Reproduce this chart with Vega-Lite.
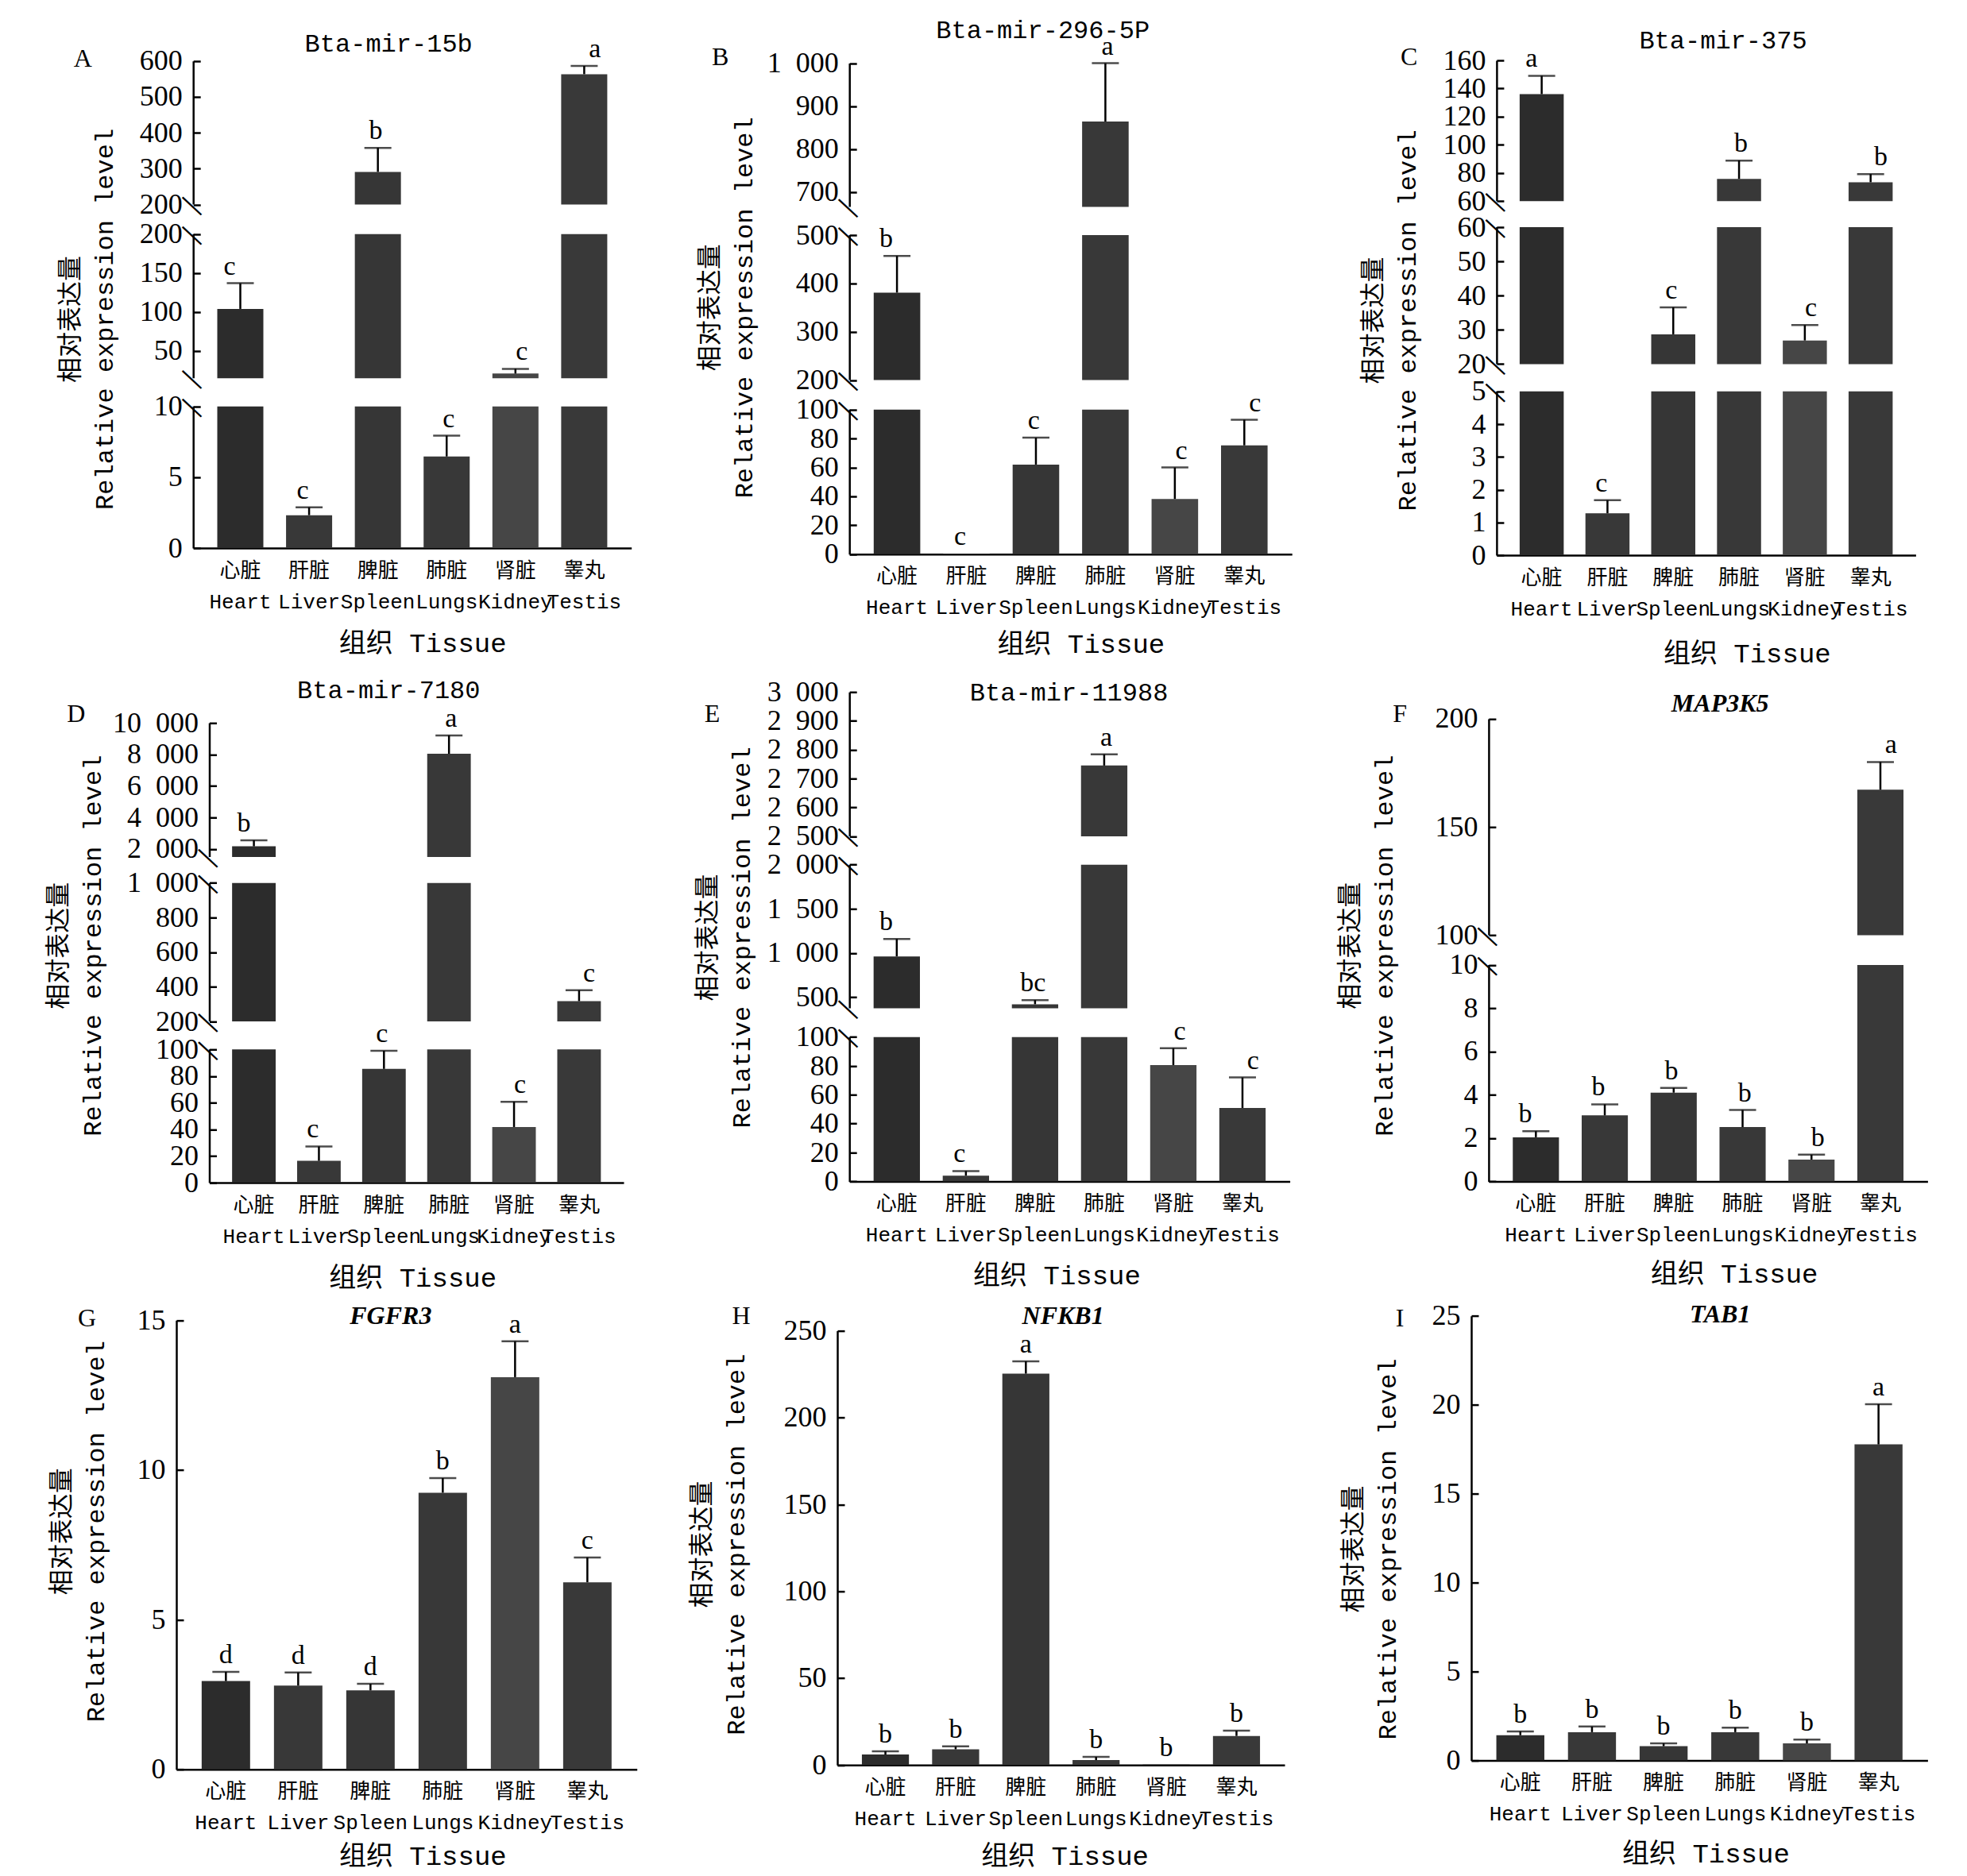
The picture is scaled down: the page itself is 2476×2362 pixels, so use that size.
{
  "$schema": "https://vega.github.io/schema/vega-lite/v6.json",
  "padding": {"left": 57, "top": 21, "right": 6, "bottom": 12},
  "background": "white",
  "columns": 3,
  "bounds": "flush",
  "spacing": {"row": 169.3, "column": 200},
  "datasets": {
    "A": [
      {"t": "心脏 Heart", "v": 104, "hi": 137, "g": "c"},
      {"t": "肝脏 Liver", "v": 2.32, "hi": 2.88, "g": "c"},
      {"t": "脾脏 Spleen", "v": 291, "hi": 358, "g": "b"},
      {"t": "肺脏 Lungs", "v": 6.47, "hi": 7.94, "g": "c"},
      {"t": "肾脏 Kidney", "v": 21, "hi": 27, "g": "c"},
      {"t": "睾丸 Testis", "v": 563, "hi": 586, "g": "a"}
    ],
    "B": [
      {"t": "心脏 Heart", "v": 381, "hi": 457, "g": "b"},
      {"t": "肝脏 Liver", "v": 0.4, "hi": 0.4, "g": "c"},
      {"t": "脾脏 Spleen", "v": 62, "hi": 80.6, "g": "c"},
      {"t": "肺脏 Lungs", "v": 864, "hi": 1000, "g": "a"},
      {"t": "肾脏 Kidney", "v": 38.2, "hi": 60, "g": "c"},
      {"t": "睾丸 Testis", "v": 75.3, "hi": 93, "g": "c"}
    ],
    "C": [
      {"t": "心脏 Heart", "v": 136, "hi": 149, "g": "a"},
      {"t": "肝脏 Liver", "v": 1.28, "hi": 1.68, "g": "c"},
      {"t": "脾脏 Spleen", "v": 28.7, "hi": 36.6, "g": "c"},
      {"t": "肺脏 Lungs", "v": 75.8, "hi": 88.8, "g": "b"},
      {"t": "肾脏 Kidney", "v": 26.9, "hi": 31.4, "g": "c"},
      {"t": "睾丸 Testis", "v": 73.4, "hi": 79.2, "g": "b"}
    ],
    "D": [
      {"t": "心脏 Heart", "v": 2170, "hi": 2556, "g": "b"},
      {"t": "肝脏 Liver", "v": 16.4, "hi": 27.2, "g": "c"},
      {"t": "脾脏 Spleen", "v": 85.4, "hi": 99, "g": "c"},
      {"t": "肺脏 Lungs", "v": 8040, "hi": 9205, "g": "a"},
      {"t": "肾脏 Kidney", "v": 41.8, "hi": 60.7, "g": "c"},
      {"t": "睾丸 Testis", "v": 317, "hi": 380, "g": "c"}
    ],
    "E": [
      {"t": "心脏 Heart", "v": 962, "hi": 1159, "g": "b"},
      {"t": "肝脏 Liver", "v": 4, "hi": 7.2, "g": "c"},
      {"t": "脾脏 Spleen", "v": 420, "hi": 467, "g": "bc"},
      {"t": "肺脏 Lungs", "v": 2745, "hi": 2784, "g": "a"},
      {"t": "肾脏 Kidney", "v": 80.6, "hi": 92.3, "g": "c"},
      {"t": "睾丸 Testis", "v": 50.9, "hi": 72, "g": "c"}
    ],
    "F": [
      {"t": "心脏 Heart", "v": 2.04, "hi": 2.32, "g": "b"},
      {"t": "肝脏 Liver", "v": 3.05, "hi": 3.56, "g": "b"},
      {"t": "脾脏 Spleen", "v": 4.1, "hi": 4.32, "g": "b"},
      {"t": "肺脏 Lungs", "v": 2.51, "hi": 3.3, "g": "b"},
      {"t": "肾脏 Kidney", "v": 1.01, "hi": 1.24, "g": "b"},
      {"t": "睾丸 Testis", "v": 167.2, "hi": 180, "g": "a"}
    ],
    "G": [
      {"t": "心脏 Heart", "v": 2.95, "hi": 3.26, "g": "d"},
      {"t": "肝脏 Liver", "v": 2.8, "hi": 3.24, "g": "d"},
      {"t": "脾脏 Spleen", "v": 2.64, "hi": 2.86, "g": "d"},
      {"t": "肺脏 Lungs", "v": 9.24, "hi": 9.73, "g": "b"},
      {"t": "肾脏 Kidney", "v": 13.1, "hi": 14.3, "g": "a"},
      {"t": "睾丸 Testis", "v": 6.25, "hi": 7.08, "g": "c"}
    ],
    "H": [
      {"t": "心脏 Heart", "v": 6, "hi": 7.9, "g": "b"},
      {"t": "肝脏 Liver", "v": 9, "hi": 10.7, "g": "b"},
      {"t": "脾脏 Spleen", "v": 225.3, "hi": 232.4, "g": "a"},
      {"t": "肺脏 Lungs", "v": 2.8, "hi": 4.7, "g": "b"},
      {"t": "肾脏 Kidney", "v": 0.3, "hi": 0.3, "g": "b"},
      {"t": "睾丸 Testis", "v": 16.7, "hi": 19.7, "g": "b"}
    ],
    "I": [
      {"t": "心脏 Heart", "v": 1.42, "hi": 1.63, "g": "b"},
      {"t": "肝脏 Liver", "v": 1.59, "hi": 1.91, "g": "b"},
      {"t": "脾脏 Spleen", "v": 0.8, "hi": 0.96, "g": "b"},
      {"t": "肺脏 Lungs", "v": 1.59, "hi": 1.84, "g": "b"},
      {"t": "肾脏 Kidney", "v": 0.96, "hi": 1.17, "g": "b"},
      {"t": "睾丸 Testis", "v": 17.77, "hi": 20.03, "g": "a"}
    ]
  },
  "concat": [
    {
      "width": 631.1, "height": 614, "data": {"name": "A"},
      "resolve": {"scale": {"x": "independent"}, "axis": {"x": "independent", "y": "independent"}},
      "layer": [
        {"mark": {"type": "bar"}, "encoding": {
          "x": {"field": "t", "type": "nominal", "scale": {"domain": ["心脏 Heart","肝脏 Liver","脾脏 Spleen","肺脏 Lungs","肾脏 Kidney","睾丸 Testis"], "range": [21.2, 572.7], "paddingInner": 0.33, "paddingOuter": 0.35}, "axis": {"orient": "bottom", "title": "组织 Tissue", "ticks": false, "labelAngle": 0, "labelFont": "Liberation Mono, Noto Sans CJK SC", "labelFontSize": 26, "labelLineHeight": 39, "labelPadding": 15, "labelBaseline": "top", "labelExpr": "split(datum.label, ' ')", "titleFont": "Liberation Mono, Noto Sans CJK SC", "titleFontSize": 34, "titleAlign": "center", "titleBaseline": "middle", "titleX": 309.7, "titleY": 120.8}},
          "y": {"field": "v", "type": "quantitative", "scale": {"domain": [0, 10, 15, 200, 200.0001, 600], "range": [614, 435.8, 400.2, 218.8, 181.6, 0.7], "zero": false, "nice": false}, "axis": {"orient": "left", "offset": -21.2, "zindex": 1, "domain": false, "values": [0, 5, 10, 50, 100, 150, 200, 200.0001, 300, 400, 500, 600], "tickSize": -9, "labelPadding": 23, "labelFont": "Liberation Serif", "labelFontSize": 36, "labelExpr": "replace(format(datum.value, ',.0f'), ',', '\u2002')", "title": ["相对表达量", "Relative expression level"], "titleFont": "Liberation Mono, Noto Sans CJK SC", "titleFontSize": 32, "titleLineHeight": 43, "titleAngle": 270, "titleAlign": "center", "titleBaseline": "middle", "titleX": -154.4, "titleY": 325.4}},
          "color": {"field": "t", "type": "nominal", "scale": {"domain": ["心脏 Heart","肝脏 Liver","脾脏 Spleen","肺脏 Lungs","肾脏 Kidney","睾丸 Testis"], "range": ["#2c2c2c","#383838","#363636","#383838","#464646","#393939"]}, "legend": null}}},
        {"data": {"values": [{}]}, "mark": {"type": "rect", "color": "white"}, "encoding": {
          "y": {"datum": 10, "type": "quantitative", "scale": {"domain": [0, 10, 15, 200, 200.0001, 600], "range": [614, 435.8, 400.2, 218.8, 181.6, 0.7], "zero": false, "nice": false}, "axis": null}, "y2": {"datum": 15}}},
        {"data": {"values": [{}]}, "mark": {"type": "rect", "color": "white"}, "encoding": {
          "y": {"datum": 200, "type": "quantitative", "scale": {"domain": [0, 10, 15, 200, 200.0001, 600], "range": [614, 435.8, 400.2, 218.8, 181.6, 0.7], "zero": false, "nice": false}, "axis": null}, "y2": {"datum": 200.0001}}},
        {"data": {"values": [{"b": 10}, {"b": 15}, {"b": 200}, {"b": 200.0001}]}, "mark": {"type": "text", "text": "\u2014", "angle": 43, "font": "Liberation Serif", "fontSize": 32, "fontWeight": "bold", "align": "center", "baseline": "middle", "color": "black"}, "encoding": {
          "x": {"datum": 0, "type": "quantitative", "scale": {"domain": [0, 1], "range": [21.2, 22.2]}, "axis": null},
          "y": {"field": "b", "type": "quantitative", "scale": {"domain": [0, 10, 15, 200, 200.0001, 600], "range": [614, 435.8, 400.2, 218.8, 181.6, 0.7], "zero": false, "nice": false}, "axis": null}}},
        {"mark": {"type": "rule", "strokeWidth": 2.5, "color": "black"}, "encoding": {
          "x": {"field": "t", "type": "nominal", "scale": {"domain": ["心脏 Heart","肝脏 Liver","脾脏 Spleen","肺脏 Lungs","肾脏 Kidney","睾丸 Testis"], "range": [21.2, 572.7], "paddingInner": 0.33, "paddingOuter": 0.35}, "axis": {"orient": "top", "domain": false, "ticks": false, "labels": false, "title": "Bta-mir-15b", "titleFont": "Liberation Mono", "titleFontSize": 32, "titleAngle": 0, "titleAlign": "center", "titleBaseline": "middle", "titleX": 266.7, "titleY": -21.6}},
          "y": {"field": "v", "type": "quantitative", "scale": {"domain": [0, 10, 15, 200, 200.0001, 600], "range": [614, 435.8, 400.2, 218.8, 181.6, 0.7], "zero": false, "nice": false}, "axis": {"orient": "left", "offset": -21.2, "zindex": 0, "domain": true, "ticks": false, "labels": false, "title": null}},
          "y2": {"field": "hi"}}},
        {"transform": [{"filter": "datum.hi > datum.v"}], "mark": {"type": "tick", "orient": "horizontal", "thickness": 2.5, "size": 34, "color": "black"}, "encoding": {
          "x": {"field": "t", "type": "nominal", "scale": {"domain": ["心脏 Heart","肝脏 Liver","脾脏 Spleen","肺脏 Lungs","肾脏 Kidney","睾丸 Testis"], "range": [21.2, 572.7], "paddingInner": 0.33, "paddingOuter": 0.35}, "axis": null},
          "y": {"field": "hi", "type": "quantitative", "scale": {"domain": [0, 10, 15, 200, 200.0001, 600], "range": [614, 435.8, 400.2, 218.8, 181.6, 0.7], "zero": false, "nice": false}, "axis": {"orient": "right", "domain": false, "ticks": false, "labels": false, "title": "A", "titleFont": "Liberation Serif", "titleFontSize": 32, "titleAngle": 0, "titleAlign": "center", "titleBaseline": "middle", "titleX": -749.4, "titleY": -3}}}},
        {"mark": {"type": "text", "baseline": "alphabetic", "dy": -11, "font": "Liberation Serif", "fontSize": 34, "color": "black"}, "encoding": {
          "x": {"field": "t", "type": "nominal", "scale": {"domain": ["心脏 Heart","肝脏 Liver","脾脏 Spleen","肺脏 Lungs","肾脏 Kidney","睾丸 Testis"], "range": [21.2, 572.7], "paddingInner": 0.33, "paddingOuter": 0.35}, "axis": null},
          "y": {"field": "hi", "type": "quantitative", "scale": {"domain": [0, 10, 15, 200, 200.0001, 600], "range": [614, 435.8, 400.2, 218.8, 181.6, 0.7], "zero": false, "nice": false}, "axis": null},
          "text": {"field": "g"}}}
      ]
    },
    {
      "width": 597.2, "height": 621.7, "data": {"name": "B"},
      "resolve": {"scale": {"x": "independent"}, "axis": {"x": "independent", "y": "independent"}},
      "layer": [
        {"mark": {"type": "bar"}, "encoding": {
          "x": {"field": "t", "type": "nominal", "scale": {"domain": ["心脏 Heart","肝脏 Liver","脾脏 Spleen","肺脏 Lungs","肾脏 Kidney","睾丸 Testis"], "range": [15.2, 572.2], "paddingInner": 0.33, "paddingOuter": 0.35}, "axis": {"orient": "bottom", "title": "组织 Tissue", "ticks": false, "labelAngle": 0, "labelFont": "Liberation Mono, Noto Sans CJK SC", "labelFontSize": 26, "labelLineHeight": 39, "labelPadding": 15, "labelBaseline": "top", "labelExpr": "split(datum.label, ' ')", "titleFont": "Liberation Mono, Noto Sans CJK SC", "titleFontSize": 34, "titleAlign": "center", "titleBaseline": "middle", "titleX": 306.3, "titleY": 113.3}},
          "y": {"field": "v", "type": "quantitative", "scale": {"domain": [0, 100, 200, 500, 665, 1000], "range": [621.7, 439.8, 402.5, 220.1, 184.4, 3.6], "zero": false, "nice": false}, "axis": {"orient": "left", "offset": -15.2, "zindex": 1, "domain": false, "values": [0, 20, 40, 60, 80, 100, 200, 300, 400, 500, 700, 800, 900, 1000], "tickSize": -9, "labelPadding": 23, "labelFont": "Liberation Serif", "labelFontSize": 36, "labelExpr": "replace(format(datum.value, ',.0f'), ',', '\u2002')", "title": ["相对表达量", "Relative expression level"], "titleFont": "Liberation Mono, Noto Sans CJK SC", "titleFontSize": 32, "titleLineHeight": 43, "titleAngle": 270, "titleAlign": "center", "titleBaseline": "middle", "titleX": -175.9, "titleY": 310.8}},
          "color": {"field": "t", "type": "nominal", "scale": {"domain": ["心脏 Heart","肝脏 Liver","脾脏 Spleen","肺脏 Lungs","肾脏 Kidney","睾丸 Testis"], "range": ["#2c2c2c","#383838","#363636","#383838","#464646","#393939"]}, "legend": null}}},
        {"data": {"values": [{}]}, "mark": {"type": "rect", "color": "white"}, "encoding": {
          "y": {"datum": 100, "type": "quantitative", "scale": {"domain": [0, 100, 200, 500, 665, 1000], "range": [621.7, 439.8, 402.5, 220.1, 184.4, 3.6], "zero": false, "nice": false}, "axis": null}, "y2": {"datum": 200}}},
        {"data": {"values": [{}]}, "mark": {"type": "rect", "color": "white"}, "encoding": {
          "y": {"datum": 500, "type": "quantitative", "scale": {"domain": [0, 100, 200, 500, 665, 1000], "range": [621.7, 439.8, 402.5, 220.1, 184.4, 3.6], "zero": false, "nice": false}, "axis": null}, "y2": {"datum": 665}}},
        {"data": {"values": [{"b": 100}, {"b": 200}, {"b": 500}, {"b": 665}]}, "mark": {"type": "text", "text": "\u2014", "angle": 43, "font": "Liberation Serif", "fontSize": 32, "fontWeight": "bold", "align": "center", "baseline": "middle", "color": "black"}, "encoding": {
          "x": {"datum": 0, "type": "quantitative", "scale": {"domain": [0, 1], "range": [15.2, 16.2]}, "axis": null},
          "y": {"field": "b", "type": "quantitative", "scale": {"domain": [0, 100, 200, 500, 665, 1000], "range": [621.7, 439.8, 402.5, 220.1, 184.4, 3.6], "zero": false, "nice": false}, "axis": null}}},
        {"mark": {"type": "rule", "strokeWidth": 2.5, "color": "black"}, "encoding": {
          "x": {"field": "t", "type": "nominal", "scale": {"domain": ["心脏 Heart","肝脏 Liver","脾脏 Spleen","肺脏 Lungs","肾脏 Kidney","睾丸 Testis"], "range": [15.2, 572.2], "paddingInner": 0.33, "paddingOuter": 0.35}, "axis": {"orient": "top", "domain": false, "ticks": false, "labels": false, "title": "Bta-mir-296-5P", "titleFont": "Liberation Mono", "titleFontSize": 32, "titleAngle": 0, "titleAlign": "center", "titleBaseline": "middle", "titleX": 258.2, "titleY": -39}},
          "y": {"field": "v", "type": "quantitative", "scale": {"domain": [0, 100, 200, 500, 665, 1000], "range": [621.7, 439.8, 402.5, 220.1, 184.4, 3.6], "zero": false, "nice": false}, "axis": {"orient": "left", "offset": -15.2, "zindex": 0, "domain": true, "ticks": false, "labels": false, "title": null}},
          "y2": {"field": "hi"}}},
        {"transform": [{"filter": "datum.hi > datum.v"}], "mark": {"type": "tick", "orient": "horizontal", "thickness": 2.5, "size": 34, "color": "black"}, "encoding": {
          "x": {"field": "t", "type": "nominal", "scale": {"domain": ["心脏 Heart","肝脏 Liver","脾脏 Spleen","肺脏 Lungs","肾脏 Kidney","睾丸 Testis"], "range": [15.2, 572.2], "paddingInner": 0.33, "paddingOuter": 0.35}, "axis": null},
          "y": {"field": "hi", "type": "quantitative", "scale": {"domain": [0, 100, 200, 500, 665, 1000], "range": [621.7, 439.8, 402.5, 220.1, 184.4, 3.6], "zero": false, "nice": false}, "axis": {"orient": "right", "domain": false, "ticks": false, "labels": false, "title": "B", "titleFont": "Liberation Serif", "titleFontSize": 32, "titleAngle": 0, "titleAlign": "center", "titleBaseline": "middle", "titleX": -745, "titleY": -4.4}}}},
        {"mark": {"type": "text", "baseline": "alphabetic", "dy": -11, "font": "Liberation Serif", "fontSize": 34, "color": "black"}, "encoding": {
          "x": {"field": "t", "type": "nominal", "scale": {"domain": ["心脏 Heart","肝脏 Liver","脾脏 Spleen","肺脏 Lungs","肾脏 Kidney","睾丸 Testis"], "range": [15.2, 572.2], "paddingInner": 0.33, "paddingOuter": 0.35}, "axis": null},
          "y": {"field": "hi", "type": "quantitative", "scale": {"domain": [0, 100, 200, 500, 665, 1000], "range": [621.7, 439.8, 402.5, 220.1, 184.4, 3.6], "zero": false, "nice": false}, "axis": null},
          "text": {"field": "g"}}}
      ]
    },
    {
      "width": 574.4, "height": 623.1, "data": {"name": "C"},
      "resolve": {"scale": {"x": "independent"}, "axis": {"x": "independent", "y": "independent"}},
      "layer": [
        {"mark": {"type": "bar"}, "encoding": {
          "x": {"field": "t", "type": "nominal", "scale": {"domain": ["心脏 Heart","肝脏 Liver","脾脏 Spleen","肺脏 Lungs","肾脏 Kidney","睾丸 Testis"], "range": [31.9, 559.4], "paddingInner": 0.33, "paddingOuter": 0.35}, "axis": {"orient": "bottom", "title": "组织 Tissue", "ticks": false, "labelAngle": 0, "labelFont": "Liberation Mono, Noto Sans CJK SC", "labelFontSize": 26, "labelLineHeight": 39, "labelPadding": 15, "labelBaseline": "top", "labelExpr": "split(datum.label, ' ')", "titleFont": "Liberation Mono, Noto Sans CJK SC", "titleFontSize": 34, "titleAlign": "center", "titleBaseline": "middle", "titleX": 346.8, "titleY": 123.9}},
          "y": {"field": "v", "type": "quantitative", "scale": {"domain": [0, 5, 20, 60, 60.0001, 160], "range": [623.1, 416.8, 382.4, 210.1, 177.2, 0], "zero": false, "nice": false}, "axis": {"orient": "left", "offset": -31.9, "zindex": 1, "domain": false, "values": [0, 1, 2, 3, 4, 5, 20, 30, 40, 50, 60, 60.0001, 80, 100, 120, 140, 160], "tickSize": -9, "labelPadding": 23, "labelFont": "Liberation Serif", "labelFontSize": 36, "labelExpr": "replace(format(datum.value, ',.0f'), ',', '\u2002')", "title": ["相对表达量", "Relative expression level"], "titleFont": "Liberation Mono, Noto Sans CJK SC", "titleFontSize": 32, "titleLineHeight": 43, "titleAngle": 270, "titleAlign": "center", "titleBaseline": "middle", "titleX": -155, "titleY": 326.9}},
          "color": {"field": "t", "type": "nominal", "scale": {"domain": ["心脏 Heart","肝脏 Liver","脾脏 Spleen","肺脏 Lungs","肾脏 Kidney","睾丸 Testis"], "range": ["#2c2c2c","#383838","#363636","#383838","#464646","#393939"]}, "legend": null}}},
        {"data": {"values": [{}]}, "mark": {"type": "rect", "color": "white"}, "encoding": {
          "y": {"datum": 5, "type": "quantitative", "scale": {"domain": [0, 5, 20, 60, 60.0001, 160], "range": [623.1, 416.8, 382.4, 210.1, 177.2, 0], "zero": false, "nice": false}, "axis": null}, "y2": {"datum": 20}}},
        {"data": {"values": [{}]}, "mark": {"type": "rect", "color": "white"}, "encoding": {
          "y": {"datum": 60, "type": "quantitative", "scale": {"domain": [0, 5, 20, 60, 60.0001, 160], "range": [623.1, 416.8, 382.4, 210.1, 177.2, 0], "zero": false, "nice": false}, "axis": null}, "y2": {"datum": 60.0001}}},
        {"data": {"values": [{"b": 5}, {"b": 20}, {"b": 60}, {"b": 60.0001}]}, "mark": {"type": "text", "text": "\u2014", "angle": 43, "font": "Liberation Serif", "fontSize": 32, "fontWeight": "bold", "align": "center", "baseline": "middle", "color": "black"}, "encoding": {
          "x": {"datum": 0, "type": "quantitative", "scale": {"domain": [0, 1], "range": [31.9, 32.9]}, "axis": null},
          "y": {"field": "b", "type": "quantitative", "scale": {"domain": [0, 5, 20, 60, 60.0001, 160], "range": [623.1, 416.8, 382.4, 210.1, 177.2, 0], "zero": false, "nice": false}, "axis": null}}},
        {"mark": {"type": "rule", "strokeWidth": 2.5, "color": "black"}, "encoding": {
          "x": {"field": "t", "type": "nominal", "scale": {"domain": ["心脏 Heart","肝脏 Liver","脾脏 Spleen","肺脏 Lungs","肾脏 Kidney","睾丸 Testis"], "range": [31.9, 559.4], "paddingInner": 0.33, "paddingOuter": 0.35}, "axis": {"orient": "top", "domain": false, "ticks": false, "labels": false, "title": "Bta-mir-375", "titleFont": "Liberation Mono", "titleFontSize": 32, "titleAngle": 0, "titleAlign": "center", "titleBaseline": "middle", "titleX": 316.5, "titleY": -25.8}},
          "y": {"field": "v", "type": "quantitative", "scale": {"domain": [0, 5, 20, 60, 60.0001, 160], "range": [623.1, 416.8, 382.4, 210.1, 177.2, 0], "zero": false, "nice": false}, "axis": {"orient": "left", "offset": -31.9, "zindex": 0, "domain": true, "ticks": false, "labels": false, "title": null}},
          "y2": {"field": "hi"}}},
        {"transform": [{"filter": "datum.hi > datum.v"}], "mark": {"type": "tick", "orient": "horizontal", "thickness": 2.5, "size": 34, "color": "black"}, "encoding": {
          "x": {"field": "t", "type": "nominal", "scale": {"domain": ["心脏 Heart","肝脏 Liver","脾脏 Spleen","肺脏 Lungs","肾脏 Kidney","睾丸 Testis"], "range": [31.9, 559.4], "paddingInner": 0.33, "paddingOuter": 0.35}, "axis": null},
          "y": {"field": "hi", "type": "quantitative", "scale": {"domain": [0, 5, 20, 60, 60.0001, 160], "range": [623.1, 416.8, 382.4, 210.1, 177.2, 0], "zero": false, "nice": false}, "axis": {"orient": "right", "domain": false, "ticks": false, "labels": false, "title": "C", "titleFont": "Liberation Serif", "titleFontSize": 32, "titleAngle": 0, "titleAlign": "center", "titleBaseline": "middle", "titleX": -653.3, "titleY": -4.3}}}},
        {"mark": {"type": "text", "baseline": "alphabetic", "dy": -11, "font": "Liberation Serif", "fontSize": 34, "color": "black"}, "encoding": {
          "x": {"field": "t", "type": "nominal", "scale": {"domain": ["心脏 Heart","肝脏 Liver","脾脏 Spleen","肺脏 Lungs","肾脏 Kidney","睾丸 Testis"], "range": [31.9, 559.4], "paddingInner": 0.33, "paddingOuter": 0.35}, "axis": null},
          "y": {"field": "hi", "type": "quantitative", "scale": {"domain": [0, 5, 20, 60, 60.0001, 160], "range": [623.1, 416.8, 382.4, 210.1, 177.2, 0], "zero": false, "nice": false}, "axis": null},
          "text": {"field": "g"}}}
      ]
    },
    {
      "width": 631.1, "height": 619.8, "data": {"name": "D"},
      "resolve": {"scale": {"x": "independent"}, "axis": {"x": "independent", "y": "independent"}},
      "layer": [
        {"mark": {"type": "bar"}, "encoding": {
          "x": {"field": "t", "type": "nominal", "scale": {"domain": ["心脏 Heart","肝脏 Liver","脾脏 Spleen","肺脏 Lungs","肾脏 Kidney","睾丸 Testis"], "range": [41.5, 563], "paddingInner": 0.33, "paddingOuter": 0.35}, "axis": {"orient": "bottom", "title": "组织 Tissue", "ticks": false, "labelAngle": 0, "labelFont": "Liberation Mono, Noto Sans CJK SC", "labelFontSize": 26, "labelLineHeight": 39, "labelPadding": 15, "labelBaseline": "top", "labelExpr": "split(datum.label, ' ')", "titleFont": "Liberation Mono, Noto Sans CJK SC", "titleFontSize": 34, "titleAlign": "center", "titleBaseline": "middle", "titleX": 297.2, "titleY": 120.4}},
          "y": {"field": "v", "type": "quantitative", "scale": {"domain": [0, 100, 200, 1000, 1500, 10000], "range": [619.8, 452, 416.7, 242.4, 209.6, 40.8], "zero": false, "nice": false}, "axis": {"orient": "left", "offset": -41.5, "zindex": 1, "domain": false, "values": [0, 20, 40, 60, 80, 100, 200, 400, 600, 800, 1000, 2000, 4000, 6000, 8000, 10000], "tickSize": -9, "labelPadding": 23, "labelFont": "Liberation Serif", "labelFontSize": 36, "labelExpr": "replace(format(datum.value, ',.0f'), ',', '\u2002')", "title": ["相对表达量", "Relative expression level"], "titleFont": "Liberation Mono, Noto Sans CJK SC", "titleFontSize": 32, "titleLineHeight": 43, "titleAngle": 270, "titleAlign": "center", "titleBaseline": "middle", "titleX": -189.8, "titleY": 320.9}},
          "color": {"field": "t", "type": "nominal", "scale": {"domain": ["心脏 Heart","肝脏 Liver","脾脏 Spleen","肺脏 Lungs","肾脏 Kidney","睾丸 Testis"], "range": ["#2c2c2c","#383838","#363636","#383838","#464646","#393939"]}, "legend": null}}},
        {"data": {"values": [{}]}, "mark": {"type": "rect", "color": "white"}, "encoding": {
          "y": {"datum": 100, "type": "quantitative", "scale": {"domain": [0, 100, 200, 1000, 1500, 10000], "range": [619.8, 452, 416.7, 242.4, 209.6, 40.8], "zero": false, "nice": false}, "axis": null}, "y2": {"datum": 200}}},
        {"data": {"values": [{}]}, "mark": {"type": "rect", "color": "white"}, "encoding": {
          "y": {"datum": 1000, "type": "quantitative", "scale": {"domain": [0, 100, 200, 1000, 1500, 10000], "range": [619.8, 452, 416.7, 242.4, 209.6, 40.8], "zero": false, "nice": false}, "axis": null}, "y2": {"datum": 1500}}},
        {"data": {"values": [{"b": 100}, {"b": 200}, {"b": 1000}, {"b": 1500}]}, "mark": {"type": "text", "text": "\u2014", "angle": 43, "font": "Liberation Serif", "fontSize": 32, "fontWeight": "bold", "align": "center", "baseline": "middle", "color": "black"}, "encoding": {
          "x": {"datum": 0, "type": "quantitative", "scale": {"domain": [0, 1], "range": [41.5, 42.5]}, "axis": null},
          "y": {"field": "b", "type": "quantitative", "scale": {"domain": [0, 100, 200, 1000, 1500, 10000], "range": [619.8, 452, 416.7, 242.4, 209.6, 40.8], "zero": false, "nice": false}, "axis": null}}},
        {"mark": {"type": "rule", "strokeWidth": 2.5, "color": "black"}, "encoding": {
          "x": {"field": "t", "type": "nominal", "scale": {"domain": ["心脏 Heart","肝脏 Liver","脾脏 Spleen","肺脏 Lungs","肾脏 Kidney","睾丸 Testis"], "range": [41.5, 563], "paddingInner": 0.33, "paddingOuter": 0.35}, "axis": {"orient": "top", "domain": false, "ticks": false, "labels": false, "title": "Bta-mir-7180", "titleFont": "Liberation Mono", "titleFontSize": 32, "titleAngle": 0, "titleAlign": "center", "titleBaseline": "middle", "titleX": 266.8, "titleY": -1.2}},
          "y": {"field": "v", "type": "quantitative", "scale": {"domain": [0, 100, 200, 1000, 1500, 10000], "range": [619.8, 452, 416.7, 242.4, 209.6, 40.8], "zero": false, "nice": false}, "axis": {"orient": "left", "offset": -41.5, "zindex": 0, "domain": true, "ticks": false, "labels": false, "title": null}},
          "y2": {"field": "hi"}}},
        {"transform": [{"filter": "datum.hi > datum.v"}], "mark": {"type": "tick", "orient": "horizontal", "thickness": 2.5, "size": 34, "color": "black"}, "encoding": {
          "x": {"field": "t", "type": "nominal", "scale": {"domain": ["心脏 Heart","肝脏 Liver","脾脏 Spleen","肺脏 Lungs","肾脏 Kidney","睾丸 Testis"], "range": [41.5, 563], "paddingInner": 0.33, "paddingOuter": 0.35}, "axis": null},
          "y": {"field": "hi", "type": "quantitative", "scale": {"domain": [0, 100, 200, 1000, 1500, 10000], "range": [619.8, 452, 416.7, 242.4, 209.6, 40.8], "zero": false, "nice": false}, "axis": {"orient": "right", "domain": false, "ticks": false, "labels": false, "title": "D", "titleFont": "Liberation Serif", "titleFontSize": 32, "titleAngle": 0, "titleAlign": "center", "titleBaseline": "middle", "titleX": -757.7, "titleY": 28.9}}}},
        {"mark": {"type": "text", "baseline": "alphabetic", "dy": -11, "font": "Liberation Serif", "fontSize": 34, "color": "black"}, "encoding": {
          "x": {"field": "t", "type": "nominal", "scale": {"domain": ["心脏 Heart","肝脏 Liver","脾脏 Spleen","肺脏 Lungs","肾脏 Kidney","睾丸 Testis"], "range": [41.5, 563], "paddingInner": 0.33, "paddingOuter": 0.35}, "axis": null},
          "y": {"field": "hi", "type": "quantitative", "scale": {"domain": [0, 100, 200, 1000, 1500, 10000], "range": [619.8, 452, 416.7, 242.4, 209.6, 40.8], "zero": false, "nice": false}, "axis": null},
          "text": {"field": "g"}}}
      ]
    },
    {
      "width": 597.2, "height": 618.2, "data": {"name": "E"},
      "resolve": {"scale": {"x": "independent"}, "axis": {"x": "independent", "y": "independent"}},
      "layer": [
        {"mark": {"type": "bar"}, "encoding": {
          "x": {"field": "t", "type": "nominal", "scale": {"domain": ["心脏 Heart","肝脏 Liver","脾脏 Spleen","肺脏 Lungs","肾脏 Kidney","睾丸 Testis"], "range": [15.2, 569.6], "paddingInner": 0.33, "paddingOuter": 0.35}, "axis": {"orient": "bottom", "title": "组织 Tissue", "ticks": false, "labelAngle": 0, "labelFont": "Liberation Mono, Noto Sans CJK SC", "labelFontSize": 26, "labelLineHeight": 39, "labelPadding": 15, "labelBaseline": "top", "labelExpr": "split(datum.label, ' ')", "titleFont": "Liberation Mono, Noto Sans CJK SC", "titleFontSize": 34, "titleAlign": "center", "titleBaseline": "middle", "titleX": 276, "titleY": 119.4}},
          "y": {"field": "v", "type": "quantitative", "scale": {"domain": [0, 100, 375, 2000, 2500, 3000], "range": [618.2, 436.4, 400.1, 219.4, 183.6, 1.9], "zero": false, "nice": false}, "axis": {"orient": "left", "offset": -15.2, "zindex": 1, "domain": false, "values": [0, 20, 40, 60, 80, 100, 500, 1000, 1500, 2000, 2500, 2600, 2700, 2800, 2900, 3000], "tickSize": -9, "labelPadding": 23, "labelFont": "Liberation Serif", "labelFontSize": 36, "labelExpr": "replace(format(datum.value, ',.0f'), ',', '\u2002')", "title": ["相对表达量", "Relative expression level"], "titleFont": "Liberation Mono, Noto Sans CJK SC", "titleFontSize": 32, "titleLineHeight": 43, "titleAngle": 270, "titleAlign": "center", "titleBaseline": "middle", "titleX": -178.4, "titleY": 310.6}},
          "color": {"field": "t", "type": "nominal", "scale": {"domain": ["心脏 Heart","肝脏 Liver","脾脏 Spleen","肺脏 Lungs","肾脏 Kidney","睾丸 Testis"], "range": ["#2c2c2c","#383838","#363636","#383838","#484848","#393939"]}, "legend": null}}},
        {"data": {"values": [{}]}, "mark": {"type": "rect", "color": "white"}, "encoding": {
          "y": {"datum": 100, "type": "quantitative", "scale": {"domain": [0, 100, 375, 2000, 2500, 3000], "range": [618.2, 436.4, 400.1, 219.4, 183.6, 1.9], "zero": false, "nice": false}, "axis": null}, "y2": {"datum": 375}}},
        {"data": {"values": [{}]}, "mark": {"type": "rect", "color": "white"}, "encoding": {
          "y": {"datum": 2000, "type": "quantitative", "scale": {"domain": [0, 100, 375, 2000, 2500, 3000], "range": [618.2, 436.4, 400.1, 219.4, 183.6, 1.9], "zero": false, "nice": false}, "axis": null}, "y2": {"datum": 2500}}},
        {"data": {"values": [{"b": 100}, {"b": 375}, {"b": 2000}, {"b": 2500}]}, "mark": {"type": "text", "text": "\u2014", "angle": 43, "font": "Liberation Serif", "fontSize": 32, "fontWeight": "bold", "align": "center", "baseline": "middle", "color": "black"}, "encoding": {
          "x": {"datum": 0, "type": "quantitative", "scale": {"domain": [0, 1], "range": [15.2, 16.2]}, "axis": null},
          "y": {"field": "b", "type": "quantitative", "scale": {"domain": [0, 100, 375, 2000, 2500, 3000], "range": [618.2, 436.4, 400.1, 219.4, 183.6, 1.9], "zero": false, "nice": false}, "axis": null}}},
        {"mark": {"type": "rule", "strokeWidth": 2.5, "color": "black"}, "encoding": {
          "x": {"field": "t", "type": "nominal", "scale": {"domain": ["心脏 Heart","肝脏 Liver","脾脏 Spleen","肺脏 Lungs","肾脏 Kidney","睾丸 Testis"], "range": [15.2, 569.6], "paddingInner": 0.33, "paddingOuter": 0.35}, "axis": {"orient": "top", "domain": false, "ticks": false, "labels": false, "title": "Bta-mir-11988", "titleFont": "Liberation Mono", "titleFontSize": 32, "titleAngle": 0, "titleAlign": "center", "titleBaseline": "middle", "titleX": 291.1, "titleY": 1.9}},
          "y": {"field": "v", "type": "quantitative", "scale": {"domain": [0, 100, 375, 2000, 2500, 3000], "range": [618.2, 436.4, 400.1, 219.4, 183.6, 1.9], "zero": false, "nice": false}, "axis": {"orient": "left", "offset": -15.2, "zindex": 0, "domain": true, "ticks": false, "labels": false, "title": null}},
          "y2": {"field": "hi"}}},
        {"transform": [{"filter": "datum.hi > datum.v"}], "mark": {"type": "tick", "orient": "horizontal", "thickness": 2.5, "size": 34, "color": "black"}, "encoding": {
          "x": {"field": "t", "type": "nominal", "scale": {"domain": ["心脏 Heart","肝脏 Liver","脾脏 Spleen","肺脏 Lungs","肾脏 Kidney","睾丸 Testis"], "range": [15.2, 569.6], "paddingInner": 0.33, "paddingOuter": 0.35}, "axis": null},
          "y": {"field": "hi", "type": "quantitative", "scale": {"domain": [0, 100, 375, 2000, 2500, 3000], "range": [618.2, 436.4, 400.1, 219.4, 183.6, 1.9], "zero": false, "nice": false}, "axis": {"orient": "right", "domain": false, "ticks": false, "labels": false, "title": "E", "titleFont": "Liberation Serif", "titleFontSize": 32, "titleAngle": 0, "titleAlign": "center", "titleBaseline": "middle", "titleX": -755.2, "titleY": 28.9}}}},
        {"mark": {"type": "text", "baseline": "alphabetic", "dy": -11, "font": "Liberation Serif", "fontSize": 34, "color": "black"}, "encoding": {
          "x": {"field": "t", "type": "nominal", "scale": {"domain": ["心脏 Heart","肝脏 Liver","脾脏 Spleen","肺脏 Lungs","肾脏 Kidney","睾丸 Testis"], "range": [15.2, 569.6], "paddingInner": 0.33, "paddingOuter": 0.35}, "axis": null},
          "y": {"field": "hi", "type": "quantitative", "scale": {"domain": [0, 100, 375, 2000, 2500, 3000], "range": [618.2, 436.4, 400.1, 219.4, 183.6, 1.9], "zero": false, "nice": false}, "axis": null},
          "text": {"field": "g"}}}
      ]
    },
    {
      "width": 574.4, "height": 618.2, "data": {"name": "F"},
      "resolve": {"scale": {"x": "independent"}, "axis": {"x": "independent", "y": "independent"}},
      "layer": [
        {"mark": {"type": "bar"}, "encoding": {
          "x": {"field": "t", "type": "nominal", "scale": {"domain": ["心脏 Heart","肝脏 Liver","脾脏 Spleen","肺脏 Lungs","肾脏 Kidney","睾丸 Testis"], "range": [21.9, 574.4], "paddingInner": 0.33, "paddingOuter": 0.35}, "axis": {"orient": "bottom", "title": "组织 Tissue", "ticks": false, "labelAngle": 0, "labelFont": "Liberation Mono, Noto Sans CJK SC", "labelFontSize": 26, "labelLineHeight": 39, "labelPadding": 15, "labelBaseline": "top", "labelExpr": "split(datum.label, ' ')", "titleFont": "Liberation Mono, Noto Sans CJK SC", "titleFontSize": 34, "titleAlign": "center", "titleBaseline": "middle", "titleX": 330.6, "titleY": 116.8}},
          "y": {"field": "v", "type": "quantitative", "scale": {"domain": [0, 10, 100, 200], "range": [618.2, 345.6, 308.2, 35.6], "zero": false, "nice": false}, "axis": {"orient": "left", "offset": -21.9, "zindex": 1, "domain": false, "values": [0, 2, 4, 6, 8, 10, 100, 150, 200], "tickSize": -9, "labelPadding": 23, "labelFont": "Liberation Serif", "labelFontSize": 36, "labelExpr": "replace(format(datum.value, ',.0f'), ',', '\u2002')", "title": ["相对表达量", "Relative expression level"], "titleFont": "Liberation Mono, Noto Sans CJK SC", "titleFontSize": 32, "titleLineHeight": 43, "titleAngle": 270, "titleAlign": "center", "titleBaseline": "middle", "titleX": -174.5, "titleY": 320.9}},
          "color": {"field": "t", "type": "nominal", "scale": {"domain": ["心脏 Heart","肝脏 Liver","脾脏 Spleen","肺脏 Lungs","肾脏 Kidney","睾丸 Testis"], "range": ["#2c2c2c","#383838","#363636","#383838","#464646","#393939"]}, "legend": null}}},
        {"data": {"values": [{}]}, "mark": {"type": "rect", "color": "white"}, "encoding": {
          "y": {"datum": 10, "type": "quantitative", "scale": {"domain": [0, 10, 100, 200], "range": [618.2, 345.6, 308.2, 35.6], "zero": false, "nice": false}, "axis": null}, "y2": {"datum": 100}}},
        {"data": {"values": [{"b": 10}, {"b": 100}]}, "mark": {"type": "text", "text": "\u2014", "angle": 43, "font": "Liberation Serif", "fontSize": 32, "fontWeight": "bold", "align": "center", "baseline": "middle", "color": "black"}, "encoding": {
          "x": {"datum": 0, "type": "quantitative", "scale": {"domain": [0, 1], "range": [21.9, 22.9]}, "axis": null},
          "y": {"field": "b", "type": "quantitative", "scale": {"domain": [0, 10, 100, 200], "range": [618.2, 345.6, 308.2, 35.6], "zero": false, "nice": false}, "axis": null}}},
        {"mark": {"type": "rule", "strokeWidth": 2.5, "color": "black"}, "encoding": {
          "x": {"field": "t", "type": "nominal", "scale": {"domain": ["心脏 Heart","肝脏 Liver","脾脏 Spleen","肺脏 Lungs","肾脏 Kidney","睾丸 Testis"], "range": [21.9, 574.4], "paddingInner": 0.33, "paddingOuter": 0.35}, "axis": {"orient": "top", "domain": false, "ticks": false, "labels": false, "title": "MAP3K5", "titleFont": "Liberation Serif", "titleFontStyle": "italic", "titleFontWeight": "bold", "titleFontSize": 32, "titleAngle": 0, "titleAlign": "center", "titleBaseline": "middle", "titleX": 312.7, "titleY": 15.9}},
          "y": {"field": "v", "type": "quantitative", "scale": {"domain": [0, 10, 100, 200], "range": [618.2, 345.6, 308.2, 35.6], "zero": false, "nice": false}, "axis": {"orient": "left", "offset": -21.9, "zindex": 0, "domain": true, "ticks": false, "labels": false, "title": null}},
          "y2": {"field": "hi"}}},
        {"transform": [{"filter": "datum.hi > datum.v"}], "mark": {"type": "tick", "orient": "horizontal", "thickness": 2.5, "size": 34, "color": "black"}, "encoding": {
          "x": {"field": "t", "type": "nominal", "scale": {"domain": ["心脏 Heart","肝脏 Liver","脾脏 Spleen","肺脏 Lungs","肾脏 Kidney","睾丸 Testis"], "range": [21.9, 574.4], "paddingInner": 0.33, "paddingOuter": 0.35}, "axis": null},
          "y": {"field": "hi", "type": "quantitative", "scale": {"domain": [0, 10, 100, 200], "range": [618.2, 345.6, 308.2, 35.6], "zero": false, "nice": false}, "axis": {"orient": "right", "domain": false, "ticks": false, "labels": false, "title": "F", "titleFont": "Liberation Serif", "titleFontSize": 32, "titleAngle": 0, "titleAlign": "center", "titleBaseline": "middle", "titleX": -664.7, "titleY": 28.9}}}},
        {"mark": {"type": "text", "baseline": "alphabetic", "dy": -11, "font": "Liberation Serif", "fontSize": 34, "color": "black"}, "encoding": {
          "x": {"field": "t", "type": "nominal", "scale": {"domain": ["心脏 Heart","肝脏 Liver","脾脏 Spleen","肺脏 Lungs","肾脏 Kidney","睾丸 Testis"], "range": [21.9, 574.4], "paddingInner": 0.33, "paddingOuter": 0.35}, "axis": null},
          "y": {"field": "hi", "type": "quantitative", "scale": {"domain": [0, 10, 100, 200], "range": [618.2, 345.6, 308.2, 35.6], "zero": false, "nice": false}, "axis": null},
          "text": {"field": "g"}}}
      ]
    },
    {
      "width": 631.1, "height": 569.2, "data": {"name": "G"},
      "resolve": {"axis": {"x": "independent", "y": "independent"}},
      "layer": [
        {"mark": {"type": "bar"}, "encoding": {
          "x": {"field": "t", "type": "nominal", "scale": {"domain": ["心脏 Heart","肝脏 Liver","脾脏 Spleen","肺脏 Lungs","肾脏 Kidney","睾丸 Testis"], "range": [0, 579.7], "paddingInner": 0.33, "paddingOuter": 0.35}, "axis": {"orient": "bottom", "title": "组织 Tissue", "ticks": false, "labelAngle": 0, "labelFont": "Liberation Mono, Noto Sans CJK SC", "labelFontSize": 26, "labelLineHeight": 39, "labelPadding": 15, "labelBaseline": "top", "labelExpr": "split(datum.label, ' ')", "titleFont": "Liberation Mono, Noto Sans CJK SC", "titleFontSize": 34, "titleAlign": "center", "titleBaseline": "middle", "titleX": 309.8, "titleY": 110}},
          "y": {"field": "v", "type": "quantitative", "scale": {"domain": [0, 15], "range": [569.2, 3.7], "zero": false, "nice": false}, "axis": {"orient": "left", "zindex": 1, "domain": true, "values": [0, 5, 10, 15], "tickSize": -9, "labelPadding": 23, "labelFont": "Liberation Serif", "labelFontSize": 36, "labelExpr": "replace(format(datum.value, ',.0f'), ',', '\u2002')", "title": ["相对表达量", "Relative expression level"], "titleFont": "Liberation Mono, Noto Sans CJK SC", "titleFontSize": 32, "titleLineHeight": 43, "titleAngle": 270, "titleAlign": "center", "titleBaseline": "middle", "titleX": -144.6, "titleY": 269.1}},
          "color": {"field": "t", "type": "nominal", "scale": {"domain": ["心脏 Heart","肝脏 Liver","脾脏 Spleen","肺脏 Lungs","肾脏 Kidney","睾丸 Testis"], "range": ["#2c2c2c","#383838","#363636","#383838","#4a4a4a","#393939"]}, "legend": null}}},
        {"mark": {"type": "rule", "strokeWidth": 2.5, "color": "black"}, "encoding": {
          "x": {"field": "t", "type": "nominal", "scale": {"domain": ["心脏 Heart","肝脏 Liver","脾脏 Spleen","肺脏 Lungs","肾脏 Kidney","睾丸 Testis"], "range": [0, 579.7], "paddingInner": 0.33, "paddingOuter": 0.35}, "axis": {"orient": "top", "domain": false, "ticks": false, "labels": false, "title": "FGFR3", "titleFont": "Liberation Serif", "titleFontStyle": "italic", "titleFontWeight": "bold", "titleFontSize": 32, "titleAngle": 0, "titleAlign": "center", "titleBaseline": "middle", "titleX": 269.3, "titleY": -1.9}},
          "y": {"field": "v", "type": "quantitative", "scale": {"domain": [0, 15], "range": [569.2, 3.7], "zero": false, "nice": false}, "axis": {"orient": "right", "domain": false, "ticks": false, "labels": false, "title": "G", "titleFont": "Liberation Serif", "titleFontSize": 32, "titleAngle": 0, "titleAlign": "center", "titleBaseline": "middle", "titleX": -744, "titleY": 0.5}},
          "y2": {"field": "hi"}}},
        {"transform": [{"filter": "datum.hi > datum.v"}], "mark": {"type": "tick", "orient": "horizontal", "thickness": 2.5, "size": 34, "color": "black"}, "encoding": {
          "x": {"field": "t", "type": "nominal", "scale": {"domain": ["心脏 Heart","肝脏 Liver","脾脏 Spleen","肺脏 Lungs","肾脏 Kidney","睾丸 Testis"], "range": [0, 579.7], "paddingInner": 0.33, "paddingOuter": 0.35}, "axis": null},
          "y": {"field": "hi", "type": "quantitative", "scale": {"domain": [0, 15], "range": [569.2, 3.7], "zero": false, "nice": false}, "axis": null}}},
        {"mark": {"type": "text", "baseline": "alphabetic", "dy": -11, "font": "Liberation Serif", "fontSize": 34, "color": "black"}, "encoding": {
          "x": {"field": "t", "type": "nominal", "scale": {"domain": ["心脏 Heart","肝脏 Liver","脾脏 Spleen","肺脏 Lungs","肾脏 Kidney","睾丸 Testis"], "range": [0, 579.7], "paddingInner": 0.33, "paddingOuter": 0.35}, "axis": null},
          "y": {"field": "hi", "type": "quantitative", "scale": {"domain": [0, 15], "range": [569.2, 3.7], "zero": false, "nice": false}, "axis": null},
          "text": {"field": "g"}}}
      ]
    },
    {
      "width": 597.2, "height": 563.6, "data": {"name": "H"},
      "resolve": {"axis": {"x": "independent", "y": "independent"}},
      "layer": [
        {"mark": {"type": "bar"}, "encoding": {
          "x": {"field": "t", "type": "nominal", "scale": {"domain": ["心脏 Heart","肝脏 Liver","脾脏 Spleen","肺脏 Lungs","肾脏 Kidney","睾丸 Testis"], "range": [0, 563], "paddingInner": 0.33, "paddingOuter": 0.35}, "axis": {"orient": "bottom", "title": "组织 Tissue", "ticks": false, "labelAngle": 0, "labelFont": "Liberation Mono, Noto Sans CJK SC", "labelFontSize": 26, "labelLineHeight": 39, "labelPadding": 15, "labelBaseline": "top", "labelExpr": "split(datum.label, ' ')", "titleFont": "Liberation Mono, Noto Sans CJK SC", "titleFontSize": 34, "titleAlign": "center", "titleBaseline": "middle", "titleX": 286.1, "titleY": 114.9}},
          "y": {"field": "v", "type": "quantitative", "scale": {"domain": [0, 250], "range": [563.6, 16.9], "zero": false, "nice": false}, "axis": {"orient": "left", "zindex": 1, "domain": true, "values": [0, 50, 100, 150, 200, 250], "tickSize": -9, "labelPadding": 23, "labelFont": "Liberation Serif", "labelFontSize": 36, "labelExpr": "replace(format(datum.value, ',.0f'), ',', '\u2002')", "title": ["相对表达量", "Relative expression level"], "titleFont": "Liberation Mono, Noto Sans CJK SC", "titleFontSize": 32, "titleLineHeight": 43, "titleAngle": 270, "titleAlign": "center", "titleBaseline": "middle", "titleX": -170.9, "titleY": 285.5}},
          "color": {"field": "t", "type": "nominal", "scale": {"domain": ["心脏 Heart","肝脏 Liver","脾脏 Spleen","肺脏 Lungs","肾脏 Kidney","睾丸 Testis"], "range": ["#2c2c2c","#383838","#363636","#383838","#464646","#393939"]}, "legend": null}}},
        {"mark": {"type": "rule", "strokeWidth": 2.5, "color": "black"}, "encoding": {
          "x": {"field": "t", "type": "nominal", "scale": {"domain": ["心脏 Heart","肝脏 Liver","脾脏 Spleen","肺脏 Lungs","肾脏 Kidney","睾丸 Testis"], "range": [0, 563], "paddingInner": 0.33, "paddingOuter": 0.35}, "axis": {"orient": "top", "domain": false, "ticks": false, "labels": false, "title": "NFKB1", "titleFont": "Liberation Serif", "titleFontStyle": "italic", "titleFontWeight": "bold", "titleFontSize": 32, "titleAngle": 0, "titleAlign": "center", "titleBaseline": "middle", "titleX": 283.6, "titleY": -1.9}},
          "y": {"field": "v", "type": "quantitative", "scale": {"domain": [0, 250], "range": [563.6, 16.9], "zero": false, "nice": false}, "axis": {"orient": "right", "domain": false, "ticks": false, "labels": false, "title": "H", "titleFont": "Liberation Serif", "titleFontSize": 32, "titleAngle": 0, "titleAlign": "center", "titleBaseline": "middle", "titleX": -718.7, "titleY": -1.9}},
          "y2": {"field": "hi"}}},
        {"transform": [{"filter": "datum.hi > datum.v"}], "mark": {"type": "tick", "orient": "horizontal", "thickness": 2.5, "size": 34, "color": "black"}, "encoding": {
          "x": {"field": "t", "type": "nominal", "scale": {"domain": ["心脏 Heart","肝脏 Liver","脾脏 Spleen","肺脏 Lungs","肾脏 Kidney","睾丸 Testis"], "range": [0, 563], "paddingInner": 0.33, "paddingOuter": 0.35}, "axis": null},
          "y": {"field": "hi", "type": "quantitative", "scale": {"domain": [0, 250], "range": [563.6, 16.9], "zero": false, "nice": false}, "axis": null}}},
        {"mark": {"type": "text", "baseline": "alphabetic", "dy": -11, "font": "Liberation Serif", "fontSize": 34, "color": "black"}, "encoding": {
          "x": {"field": "t", "type": "nominal", "scale": {"domain": ["心脏 Heart","肝脏 Liver","脾脏 Spleen","肺脏 Lungs","肾脏 Kidney","睾丸 Testis"], "range": [0, 563], "paddingInner": 0.33, "paddingOuter": 0.35}, "axis": null},
          "y": {"field": "hi", "type": "quantitative", "scale": {"domain": [0, 250], "range": [563.6, 16.9], "zero": false, "nice": false}, "axis": null},
          "text": {"field": "g"}}}
      ]
    },
    {
      "width": 574.4, "height": 557.9, "data": {"name": "I"},
      "resolve": {"axis": {"x": "independent", "y": "independent"}},
      "layer": [
        {"mark": {"type": "bar"}, "encoding": {
          "x": {"field": "t", "type": "nominal", "scale": {"domain": ["心脏 Heart","肝脏 Liver","脾脏 Spleen","肺脏 Lungs","肾脏 Kidney","睾丸 Testis"], "range": [0, 574.4], "paddingInner": 0.33, "paddingOuter": 0.35}, "axis": {"orient": "bottom", "title": "组织 Tissue", "ticks": false, "labelAngle": 0, "labelFont": "Liberation Mono, Noto Sans CJK SC", "labelFontSize": 26, "labelLineHeight": 39, "labelPadding": 15, "labelBaseline": "top", "labelExpr": "split(datum.label, ' ')", "titleFont": "Liberation Mono, Noto Sans CJK SC", "titleFontSize": 34, "titleAlign": "center", "titleBaseline": "middle", "titleX": 294.9, "titleY": 118.3}},
          "y": {"field": "v", "type": "quantitative", "scale": {"domain": [0, 25], "range": [557.9, -1.9], "zero": false, "nice": false}, "axis": {"orient": "left", "zindex": 1, "domain": true, "values": [0, 5, 10, 15, 20, 25], "tickSize": -9, "labelPadding": 23, "labelFont": "Liberation Serif", "labelFontSize": 36, "labelExpr": "replace(format(datum.value, ',.0f'), ',', '\u2002')", "title": ["相对表达量", "Relative expression level"], "titleFont": "Liberation Mono, Noto Sans CJK SC", "titleFontSize": 32, "titleLineHeight": 43, "titleAngle": 270, "titleAlign": "center", "titleBaseline": "middle", "titleX": -148.8, "titleY": 291.4}},
          "color": {"field": "t", "type": "nominal", "scale": {"domain": ["心脏 Heart","肝脏 Liver","脾脏 Spleen","肺脏 Lungs","肾脏 Kidney","睾丸 Testis"], "range": ["#2c2c2c","#383838","#363636","#383838","#464646","#393939"]}, "legend": null}}},
        {"mark": {"type": "rule", "strokeWidth": 2.5, "color": "black"}, "encoding": {
          "x": {"field": "t", "type": "nominal", "scale": {"domain": ["心脏 Heart","肝脏 Liver","脾脏 Spleen","肺脏 Lungs","肾脏 Kidney","睾丸 Testis"], "range": [0, 574.4], "paddingInner": 0.33, "paddingOuter": 0.35}, "axis": {"orient": "top", "domain": false, "ticks": false, "labels": false, "title": "TAB1", "titleFont": "Liberation Serif", "titleFontStyle": "italic", "titleFontWeight": "bold", "titleFontSize": 32, "titleAngle": 0, "titleAlign": "center", "titleBaseline": "middle", "titleX": 312.7, "titleY": -4.2}},
          "y": {"field": "v", "type": "quantitative", "scale": {"domain": [0, 25], "range": [557.9, -1.9], "zero": false, "nice": false}, "axis": {"orient": "right", "domain": false, "ticks": false, "labels": false, "title": "I", "titleFont": "Liberation Serif", "titleFontSize": 32, "titleAngle": 0, "titleAlign": "center", "titleBaseline": "middle", "titleX": -664.7, "titleY": 0.5}},
          "y2": {"field": "hi"}}},
        {"transform": [{"filter": "datum.hi > datum.v"}], "mark": {"type": "tick", "orient": "horizontal", "thickness": 2.5, "size": 34, "color": "black"}, "encoding": {
          "x": {"field": "t", "type": "nominal", "scale": {"domain": ["心脏 Heart","肝脏 Liver","脾脏 Spleen","肺脏 Lungs","肾脏 Kidney","睾丸 Testis"], "range": [0, 574.4], "paddingInner": 0.33, "paddingOuter": 0.35}, "axis": null},
          "y": {"field": "hi", "type": "quantitative", "scale": {"domain": [0, 25], "range": [557.9, -1.9], "zero": false, "nice": false}, "axis": null}}},
        {"mark": {"type": "text", "baseline": "alphabetic", "dy": -11, "font": "Liberation Serif", "fontSize": 34, "color": "black"}, "encoding": {
          "x": {"field": "t", "type": "nominal", "scale": {"domain": ["心脏 Heart","肝脏 Liver","脾脏 Spleen","肺脏 Lungs","肾脏 Kidney","睾丸 Testis"], "range": [0, 574.4], "paddingInner": 0.33, "paddingOuter": 0.35}, "axis": null},
          "y": {"field": "hi", "type": "quantitative", "scale": {"domain": [0, 25], "range": [557.9, -1.9], "zero": false, "nice": false}, "axis": null},
          "text": {"field": "g"}}}
      ]
    }
  ],
  "config": {
    "view": {"stroke": null},
    "axis": {"domainColor": "black", "domainWidth": 2.5, "tickColor": "black", "tickWidth": 2.5, "labelColor": "black", "titleColor": "black", "grid": false, "labelOverlap": false, "titleFontWeight": "normal", "titlePadding": 0}
  }
}
